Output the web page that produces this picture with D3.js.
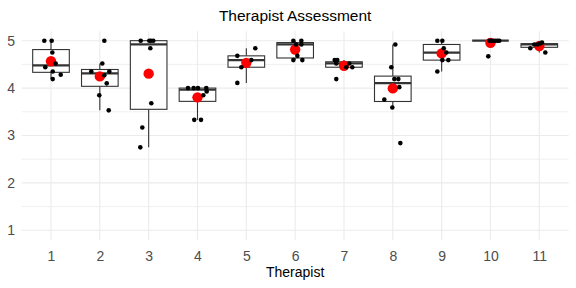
<!DOCTYPE html>
<html>
<head>
<meta charset="utf-8">
<script src="https://cdn.jsdelivr.net/npm/d3@7"></script>
<style>
  body { margin: 0; background: #fff; }
  text { font-family: "Liberation Sans", Arial, sans-serif; }
</style>
</head>
<body>
<div class="canvas"></div>
<script>
var pageWidth = 576,
    pageHeight = 288;

// therapist ids on the x axis
var therapists = ['1','2','3','4','5','6','7','8','9','10','11'];

// assessment scores per therapist
var scores = [
  [5, 5, 4.75, 4.52, 4.44, 4.35, 4.28, 4.19],
  [5, 4.52, 4.35, 4.35, 4.27, 4.10, 3.85, 3.53],
  [5, 5, 5, 5, 4.84, 3.68, 3.17, 2.75],
  [4, 4, 4, 3.93, 3.85, 3.33, 3.33, 4],
  [4.84, 4.68, 4.59, 4.44, 4.11],
  [5, 5, 4.92, 4.92, 4.68, 4.59, 4.59],
  [4.59, 4.59, 4.52, 4.52, 4.44, 4.44, 4.19],
  [4.92, 4.44, 4.19, 4.19, 4.02, 3.76, 3.59, 2.84],
  [5, 5, 4.84, 4.75, 4.59, 4.59, 4.35],
  [4.67, 5, 5, 5, 5, 5, 5],
  [4.84, 4.92, 4.92, 4.94, 4.75, 4.96]
];

// horizontal jitter of each point, in category units
var jitter = [
  [-0.137, 0.014, 0.027, 0.096, -0.117, 0.035, 0.199, 0.035],
  [0.092, 0.051, -0.175, 0.194, 0.092, 0.141, -0.011, 0.182],
  [-0.163, 0.013, 0.048, 0.095, 0.034, 0.054, -0.13, -0.171],
  [-0.195, -0.078, 0.18, 0.188, 0.119, -0.066, 0.072, 0.01],
  [0.184, -0.184, 0.102, -0.102, -0.184],
  [-0.037, 0.127, 0.018, 0.127, 0.045, -0.037, 0.147],
  [-0.19, -0.137, -0.158, 0.109, 0.047, 0.17, -0.158],
  [0.051, -0.031, 0.031, 0.113, 0.133, -0.174, -0.01, 0.154],
  [-0.088, 0.014, 0.043, 0.096, 0.014, 0.137, -0.088],
  [-0.045, -0.02, 0.02, 0.061, 0.102, 0.143, 0.18],
  [-0.184, -0.102, -0.033, 0.014, 0.123, 0.055]
];

var yTicks = [1, 2, 3, 4, 5];
var yMinor = [1.5, 2.5, 3.5, 4.5];

var svg = d3.select('.canvas')
    .append('svg')
    .attr('width', pageWidth)
    .attr('height', pageHeight);

var x = d3.scalePoint()
    .domain(therapists)
    .range([21.7, 568.6])
    .padding(0.6);
var step = x.step();

var y = d3.scaleLinear()
    .domain([0.8, 5.2])
    .range([239.8, 31.2]);

// grid
var grid = svg.append('g').attr('class', 'grid');
grid.selectAll('.minor')
    .data(yMinor)
    .enter().append('line')
    .attr('x1', x.range()[0]).attr('x2', x.range()[1])
    .attr('y1', function(d){ return y(d); })
    .attr('y2', function(d){ return y(d); })
    .style('stroke', '#ebebeb').style('stroke-width', 0.8);
grid.selectAll('.major-y')
    .data(yTicks)
    .enter().append('line')
    .attr('x1', x.range()[0]).attr('x2', x.range()[1])
    .attr('y1', function(d){ return y(d); })
    .attr('y2', function(d){ return y(d); })
    .style('stroke', '#ebebeb').style('stroke-width', 1.1);
grid.selectAll('.major-x')
    .data(therapists)
    .enter().append('line')
    .attr('x1', function(d){ return x(d); })
    .attr('x2', function(d){ return x(d); })
    .attr('y1', y.range()[0]).attr('y2', y.range()[1])
    .style('stroke', '#ebebeb').style('stroke-width', 1.1);

// axes text
var yAxis = svg.append('g')
    .attr('transform', 'translate(15,0)')
    .call(d3.axisLeft(y).tickValues(yTicks).tickSize(0).tickPadding(0).tickFormat(d3.format('d')));
var xAxis = svg.append('g')
    .attr('transform', 'translate(0,' + 250 + ')')
    .call(d3.axisBottom(x).tickSize(0).tickPadding(0));
[xAxis, yAxis].forEach(function(a){
    a.select('.domain').remove();
    a.selectAll('text')
        .style('font-size', '14px')
        .style('fill', '#4d4d4d')
        .style('font-family', '"Liberation Sans", Arial, sans-serif');
});
xAxis.selectAll('text').attr('dy', '0.77em');

// box plots
var boxWidth = step * 0.75;
var boxes = svg.append('g').attr('class', 'boxes');
therapists.forEach(function(t, i){
    var v = scores[i].slice().sort(d3.ascending);
    var q1 = d3.quantile(v, 0.25),
        med = d3.quantile(v, 0.5),
        q3 = d3.quantile(v, 0.75),
        iqr = q3 - q1;
    var lo = d3.min(v.filter(function(d){ return d >= q1 - 1.5*iqr - 1e-9; })),
        hi = d3.max(v.filter(function(d){ return d <= q3 + 1.5*iqr + 1e-9; }));
    var cx = x(t);
    var g = boxes.append('g');
    g.append('line')
        .attr('x1', cx).attr('x2', cx)
        .attr('y1', y(q3)).attr('y2', y(hi))
        .style('stroke', '#333').style('stroke-width', 1.1);
    g.append('line')
        .attr('x1', cx).attr('x2', cx)
        .attr('y1', y(q1)).attr('y2', y(lo))
        .style('stroke', '#333').style('stroke-width', 1.1);
    g.append('rect')
        .attr('x', cx - boxWidth/2)
        .attr('y', y(q3))
        .attr('width', boxWidth)
        .attr('height', Math.max(0, y(q1) - y(q3)))
        .style('fill', '#fff')
        .style('stroke', '#333').style('stroke-width', 1.1);
    g.append('line')
        .attr('x1', cx - boxWidth/2).attr('x2', cx + boxWidth/2)
        .attr('y1', y(med)).attr('y2', y(med))
        .style('stroke', '#333').style('stroke-width', 2.2);
});

// means
svg.append('g').selectAll('circle')
    .data(therapists)
    .enter().append('circle')
    .attr('cx', function(d){ return x(d); })
    .attr('cy', function(d, i){ return y(d3.mean(scores[i])); })
    .attr('r', 5.2)
    .style('fill', '#ff0000');

// jittered points
var pts = svg.append('g');
therapists.forEach(function(t, i){
    scores[i].forEach(function(s, j){
        pts.append('circle')
            .attr('cx', x(t) + jitter[i][j]*step)
            .attr('cy', y(s))
            .attr('r', 2.3)
            .style('fill', '#000');
    });
});

// titles
svg.append('text')
    .attr('x', (x.range()[0] + x.range()[1])/2)
    .attr('y', 21)
    .attr('text-anchor', 'middle')
    .style('font-size', '15.5px')
    .style('fill', '#000')
    .text('Therapist Assessment');
svg.append('text')
    .attr('x', (x.range()[0] + x.range()[1])/2)
    .attr('y', 277)
    .attr('text-anchor', 'middle')
    .style('font-size', '14px')
    .style('fill', '#000')
    .text('Therapist');
</script>
</body>
</html>
